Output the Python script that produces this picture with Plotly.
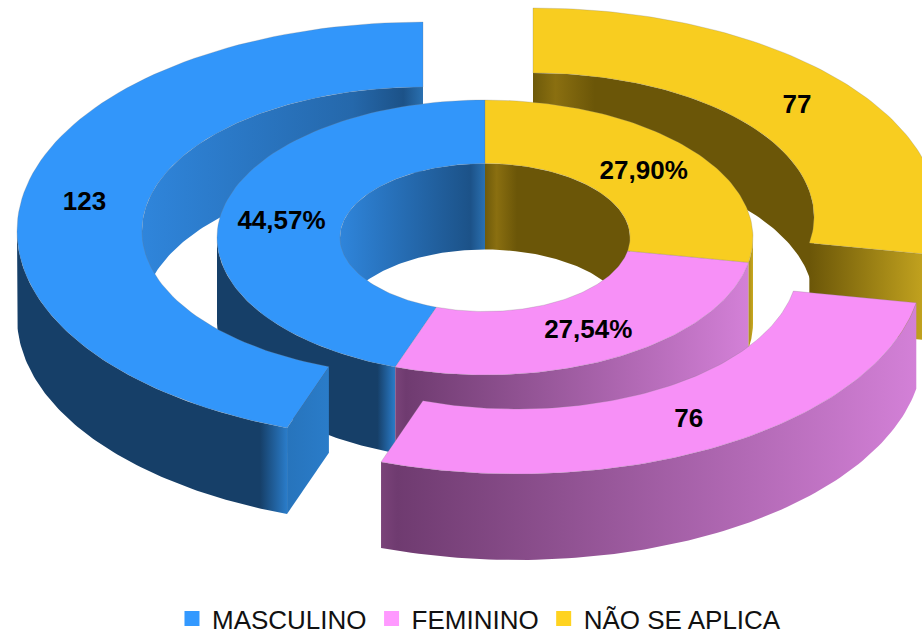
import numpy as np
import plotly.graph_objects as go

categories = ["MASCULINO", "FEMININO", "NÃO SE APLICA"]
counts = [123, 76, 77]

TOP = {"MASCULINO": "#3296fa", "FEMININO": "#f790f7", "NÃO SE APLICA": "#f8cd20"}
LEGEND = {"MASCULINO": "#3399ff", "FEMININO": "#ff99ff", "NÃO SE APLICA": "#ffd320"}
# ring geometry (plot pixels)
DEPTH = 86
LABEL_SHIFT = 2.5
INNER_CENTER = (485, 237.5)
INNER_RX, INNER_RY = (145, 268), (74, 137.5)
OUTER_RX, OUTER_RY = (281, 406), (144, 209)
OUTER_CENTER = {"MASCULINO": (423, 231), "FEMININO": (517, 265), "NÃO SE APLICA": (533, 217)}

BLUE_FRONT = [[0, "#163f68"], [0.9, "#163f68"], [1, "#2a7cc9"]]
BLUE_HOLE = [[0, "#2f85db"], [0.9, "#1c5288"], [1, "#2a70b0"]]
BLUE_BACK = [[0, "#2f85db"], [0.75, "#2568ab"], [0.93, "#1c5288"], [1, "#2a70b0"]]
PINK_FRONT = [[0, "#7a4379"], [0.03, "#6f3b70"], [1, "#d380d7"]]
YEL_BACK = [[0, "#6e5a0a"], [0.08, "#8a6f10"], [0.22, "#6b5608"], [1, "#6b5608"]]
YEL_FRONT = [[0, "#a88c18"], [1, "#c8a820"]]
FRONT = {"MASCULINO": BLUE_FRONT, "FEMININO": PINK_FRONT, "NÃO SE APLICA": YEL_FRONT}
BACK = {"MASCULINO": BLUE_BACK, "NÃO SE APLICA": YEL_BACK}
HOLE = {"MASCULINO": BLUE_HOLE, "NÃO SE APLICA": YEL_BACK}
CUT = {"MASCULINO": [[0, "#2774bc"], [1, "#2a7cc9"]],
       "NÃO SE APLICA": [[0, "#6b5608"], [1, "#c8a820"]]}

total = sum(counts)
clockwise = list(zip(categories, counts))[::-1]  # sectors run clockwise from 12 o'clock
sectors = {}
start = 0.0
for name, value in clockwise:
    sweep = 360.0 * value / total
    sectors[name] = (start, start + sweep)
    start += sweep


def arc(center, rx, ry, a0, a1, n=90):
    t = np.radians(np.linspace(a0, a1, n))
    return center[0] + rx * np.sin(t), center[1] - ry * np.cos(t)


def poly(fig, x, y, colour=None, scale=None, edge=False):
    kw = dict(fillgradient=dict(type="horizontal", colorscale=scale)) if scale else dict(fillcolor=colour)
    fig.add_trace(go.Scatter(
        x=np.r_[x, x[0]], y=np.r_[y, y[0]], mode="lines", fill="toself",
        line=dict(width=0.7 if edge else 0, color="rgba(120,120,120,0.35)"),
        hoverinfo="skip", showlegend=False, **kw))


def top(fig, name, center, rxs, rys):
    a0, a1 = sectors[name]
    xo, yo = arc(center, rxs[1], rys[1], a0, a1)
    xi, yi = arc(center, rxs[0], rys[0], a0, a1)
    poly(fig, np.r_[xo, xi[::-1]], np.r_[yo, yi[::-1]], colour=TOP[name], edge=True)


def wall(fig, center, rx, ry, a0, a1, scale):
    if a1 <= a0:
        return
    x, y = arc(center, rx, ry, a0, a1)
    poly(fig, np.r_[x, x[::-1]], np.r_[y, y[::-1] + DEPTH], scale=scale)


def back_wall(fig, name, center, rx, ry, scales):
    a0, a1 = sectors[name]
    if name in scales:
        if a0 < 90:
            wall(fig, center, rx, ry, a0, min(a1, 90), scales[name])
        if a1 > 270:
            wall(fig, center, rx, ry, max(a0, 270), a1, scales[name])


def front_wall(fig, name, center, rx, ry):
    a0, a1 = sectors[name]
    wall(fig, center, rx, ry, max(a0, 90), min(a1, 270), FRONT[name])


def cut_face(fig, name, center, angle):
    xo, yo = arc(center, OUTER_RX[1], OUTER_RY[1], angle, angle, 1)
    xi, yi = arc(center, OUTER_RX[0], OUTER_RY[0], angle, angle, 1)
    x = np.r_[xi, xo]
    y = np.r_[yi, yo]
    poly(fig, np.r_[x, x[::-1]], np.r_[y, y[::-1] + DEPTH], scale=CUT[name])


fig = go.Figure()

# back walls of the exploded outer ring
for name in ["NÃO SE APLICA", "MASCULINO"]:
    back_wall(fig, name, OUTER_CENTER[name], OUTER_RX[0], OUTER_RY[0], BACK)

# inner ring
for name in categories:
    back_wall(fig, name, INNER_CENTER, INNER_RX[0], INNER_RY[0], HOLE)
for name in categories:
    front_wall(fig, name, INNER_CENTER, INNER_RX[1], INNER_RY[1])
for name in categories:
    top(fig, name, INNER_CENTER, INNER_RX, INNER_RY)

# outer ring, exploded
cut_face(fig, "NÃO SE APLICA", OUTER_CENTER["NÃO SE APLICA"], sectors["NÃO SE APLICA"][1])
front_wall(fig, "NÃO SE APLICA", OUTER_CENTER["NÃO SE APLICA"], OUTER_RX[1], OUTER_RY[1])
top(fig, "NÃO SE APLICA", OUTER_CENTER["NÃO SE APLICA"], OUTER_RX, OUTER_RY)
front_wall(fig, "MASCULINO", OUTER_CENTER["MASCULINO"], OUTER_RX[1], OUTER_RY[1])
cut_face(fig, "MASCULINO", OUTER_CENTER["MASCULINO"], sectors["MASCULINO"][0])
top(fig, "MASCULINO", OUTER_CENTER["MASCULINO"], OUTER_RX, OUTER_RY)
front_wall(fig, "FEMININO", OUTER_CENTER["FEMININO"], OUTER_RX[1], OUTER_RY[1])
top(fig, "FEMININO", OUTER_CENTER["FEMININO"], OUTER_RX, OUTER_RY)

# data labels at the middle of each ring sector
lab_x, lab_y, lab_t = [], [], []
for name, value in zip(categories, counts):
    mid = np.radians(sum(sectors[name]) / 2)
    for center, rxs, rys, text in [
        (INNER_CENTER, INNER_RX, INNER_RY, f"{100 * value / total:.2f}%".replace(".", ",")),
        (OUTER_CENTER[name], OUTER_RX, OUTER_RY, str(value)),
    ]:
        lab_x.append(center[0] + np.mean(rxs) * np.sin(mid))
        lab_y.append(center[1] - np.mean(rys) * np.cos(mid) + LABEL_SHIFT)
        lab_t.append(text)
fig.add_trace(go.Scatter(
    x=lab_x, y=lab_y, text=lab_t, mode="text", textposition="middle center",
    textfont=dict(family="Liberation Sans", size=26, color="black", weight=700),
    hoverinfo="skip", showlegend=False))

# legend
for name in categories:
    fig.add_trace(go.Scatter(
        x=[None], y=[None], mode="markers", name=name,
        marker=dict(symbol="square", size=15, color=LEGEND[name])))

fig.update_layout(
    width=922, height=635, margin=dict(l=0, r=0, t=0, b=0, autoexpand=False),
    paper_bgcolor="white", plot_bgcolor="white",
    xaxis=dict(range=[0, 922], visible=False, fixedrange=True),
    yaxis=dict(range=[635, 0], visible=False, fixedrange=True),
    legend=dict(orientation="h", x=0.5195, xanchor="center", y=-0.0112, yanchor="bottom",
                font=dict(family="Liberation Sans", size=26, color="#111111"),
                itemclick=False, itemdoubleclick=False, bgcolor="rgba(0,0,0,0)"),
)

fig.write_html("out.html", config={"displayModeBar": False},
               post_script="document.body.style.margin='0';document.body.style.overflow='hidden';")
